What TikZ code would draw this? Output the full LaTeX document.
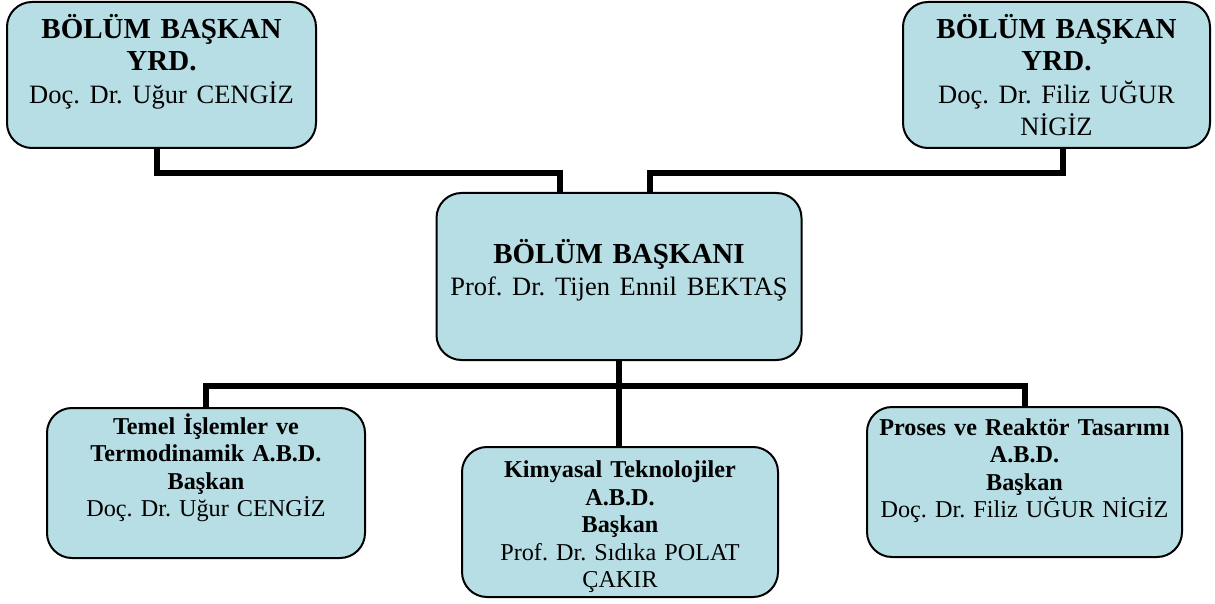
\documentclass[tikz,border=0pt]{standalone}
\usepackage{fontspec}
\setmainfont{Liberation Serif}
\usetikzlibrary{calc}

\definecolor{boxfill}{RGB}{183,222,228}
\newcommand{\headfont}{\fontsize{29}{32.5}\selectfont}
\newcommand{\namefont}{\fontsize{26.5}{32.5}\selectfont}
\newcommand{\unitfont}{\fontsize{24.2}{27.5}\selectfont}

\tikzset{
  box/.style={rectangle, rounded corners=25pt, draw=black, line width=2pt,
    fill=boxfill, align=center, inner sep=0pt},
  link/.style={line width=6pt, line join=miter}
}

\newcommand{\hb}{\node[box, font=\headfont, text width=290pt]}
\newcommand{\ub}{\node[box, font=\unitfont, text width=305pt]}

\begin{document}
\frenchspacing
\begin{tikzpicture}[x=1pt, y=-1pt]
  \useasboundingbox (0,0) rectangle (1215,604);

  % yardimcilar
  \hb[minimum width=309pt, minimum height=146pt] (tl) at (161.5,75)
     {\textbf{BÖLÜM BAŞKAN}\\ \textbf{YRD.}\\ \namefont Doç. Dr. Uğur CENGİZ\\ ~};
  \hb[minimum width=307pt, minimum height=146pt] (tr) at (1056.5,75)
     {\textbf{BÖLÜM BAŞKAN}\\ \textbf{YRD.}\\ \namefont Doç. Dr. Filiz UĞUR\\ \namefont NİGİZ};

  % baskan
  \hb[text width=355pt, minimum width=365pt, minimum height=167pt] (hd) at (619,276.5)
     {\textbf{BÖLÜM BAŞKANI}\\ \namefont Prof. Dr. Tijen Ennil BEKTAŞ\rule[-18pt]{0pt}{0pt}};

  % anabilim dallari
  \ub[minimum width=318pt, minimum height=150pt] (bl) at (206,483)
     {\textbf{Temel İşlemler ve}\\ \textbf{Termodinamik A.B.D.}\\ \textbf{Başkan}\\ Doç. Dr. Uğur CENGİZ\\[8pt] ~};
  \ub[minimum width=316pt, minimum height=150pt] (bm) at (620,522)
     {\rule{0pt}{27pt}\textbf{Kimyasal Teknolojiler}\\ \textbf{A.B.D.}\\ \textbf{Başkan}\\ Prof. Dr. Sıdıka POLAT\\ ÇAKIR};
  \ub[minimum width=315pt, minimum height=150pt] (br) at (1024.5,482)
     {\textbf{Proses ve Reaktör Tasarımı}\\ \textbf{A.B.D.}\\ \textbf{Başkan}\\ Doç. Dr. Filiz UĞUR NİGİZ\\ ~};

  \draw[link]
    ([xshift=-4.5pt]tl.south) -- ++(0,24) -| ([xshift=-59pt]hd.north)
    ([xshift=6.5pt]tr.south) -- ++(0,24) -| ([xshift=31pt]hd.north)
    ;

  \draw[link]
    (hd.south) -- ++(0,25) -| (bl.north)
    (hd.south) -- ++(0,25) -| (br.north)
    (hd.south) -- (hd.south |- bm.north)
    ;
\end{tikzpicture}
\end{document}
